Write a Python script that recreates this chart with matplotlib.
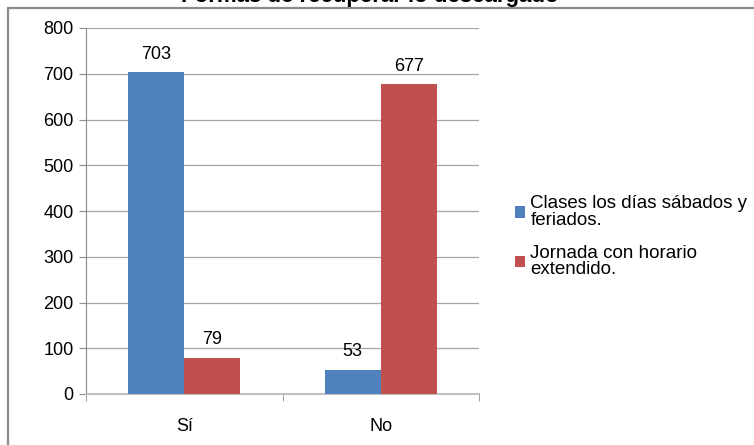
import numpy as np
import matplotlib.pyplot as plt
from matplotlib.patches import Rectangle

plt.rcParams['font.family'] = ['Liberation Sans', 'DejaVu Sans']

# data
categories = ['Sí', 'No']
series_names = ['Clases los días sábados y\nferiados.',
                'Jornada con horario\nextendido.']
sabados = [703, 53]
horario = [79, 677]
colors = ['#4F81BD', '#C0504D']
title = 'Formas de recuperar lo descargado'

fig = plt.figure(figsize=(7.54, 4.45), dpi=100)

# grey frame around the chart (runs off the right and bottom edge)
fig.patches.append(Rectangle((8 / 754, -0.05), 1.1, 1 - 8 / 445 + 0.05,
                             transform=fig.transFigure, fill=False,
                             edgecolor='#8c8c8c', linewidth=1.6))

# title sits mostly above the image, only its lower part shows
fig.text(0.49, 1 - 2 / 445, title, ha='center', va='baseline',
         fontsize=16, fontweight='bold', color='black')

ax = fig.add_axes([86 / 754, 1 - 394 / 445, (479 - 86) / 754, (394 - 28) / 445])

x = np.arange(len(categories))
w = 0.286
bars1 = ax.bar(x - w / 2, sabados, w, color=colors[0], label=series_names[0], zorder=3)
bars2 = ax.bar(x + w / 2, horario, w, color=colors[1], label=series_names[1], zorder=3)

for bars in (bars1, bars2):
    for b in bars:
        ax.annotate(str(int(b.get_height())),
                    (b.get_x() + b.get_width() / 2, b.get_height()),
                    xytext=(0, 7), textcoords='offset points',
                    ha='center', va='bottom', fontsize=13)

ax.set_xlim(-0.5, 1.5)
ax.set_ylim(0, 800)
ax.set_yticks(range(0, 801, 100))
ax.yaxis.grid(True, color='#a6a6a6', linewidth=0.9, zorder=0)

ax.set_xticks(x)
ax.set_xticklabels(categories)
ax.set_xticks([-0.5, 0.5, 1.5], minor=True)
ax.tick_params(axis='x', which='major', length=0, pad=17, labelsize=13)
ax.tick_params(axis='x', which='minor', length=5, color='#8c8c8c')
ax.tick_params(axis='y', length=5, color='#8c8c8c', labelsize=13, pad=4)

for s in ('top', 'right'):
    ax.spines[s].set_visible(False)
ax.spines['left'].set_color('#8c8c8c')
ax.spines['bottom'].set_color('#bfbfbf')
ax.spines['bottom'].set_linewidth(1.5)

leg = ax.legend(loc='upper left', bbox_to_anchor=(507 / 754, 1 - 188 / 445),
                bbox_transform=fig.transFigure, frameon=False, fontsize=13.5,
                handlelength=0.55, handleheight=0.55, handletextpad=0.3,
                labelspacing=0.85, borderaxespad=0)
for t in leg.get_texts():
    t.set_linespacing(0.95)

fig.savefig('out.png', dpi=100)
